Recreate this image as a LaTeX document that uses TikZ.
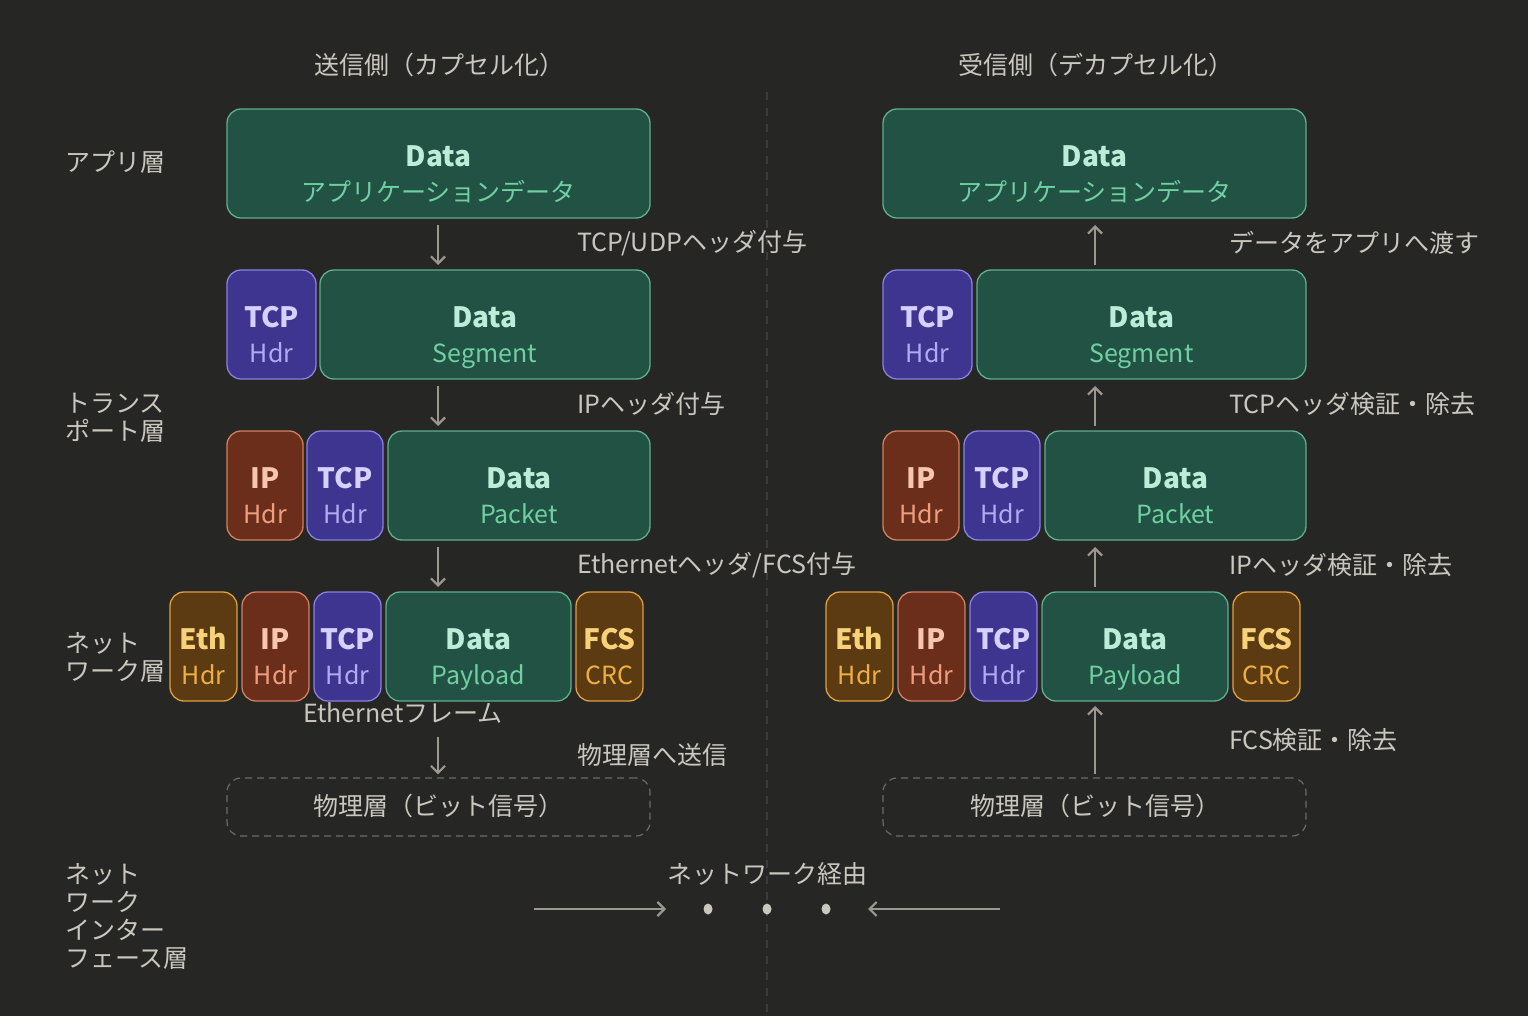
\documentclass[tikz,border=0pt]{standalone}
\usepackage{fontspec}
\setmainfont{Noto Sans CJK JP}
\usetikzlibrary{arrows.meta,shapes.geometric}
\definecolor{bg}{HTML}{262624}
\definecolor{txt}{HTML}{C9C7BE}
\definecolor{arrc}{HTML}{9A988F}
\definecolor{divc}{HTML}{3C3C3A}
\definecolor{physc}{HTML}{6A6A66}
\definecolor{gfill}{HTML}{225244}
\definecolor{gdraw}{HTML}{5FAE8E}
\definecolor{gt}{HTML}{BDEDD9}
\definecolor{gs}{HTML}{6FD0A4}
\definecolor{pfill}{HTML}{3D3590}
\definecolor{pdraw}{HTML}{8A80E0}
\definecolor{pt}{HTML}{D6D2FF}
\definecolor{ps}{HTML}{B3ABF2}
\definecolor{rfill}{HTML}{6A2E1A}
\definecolor{rdraw}{HTML}{D0805E}
\definecolor{rt}{HTML}{F6C6AE}
\definecolor{rs}{HTML}{EE9E7E}
\definecolor{ofill}{HTML}{5C3B12}
\definecolor{odraw}{HTML}{E0A040}
\definecolor{ot}{HTML}{F8D27A}
\definecolor{os}{HTML}{EEB040}
\tikzset{
  pk/.style={rounded corners=14pt, line width=1.3pt, inner sep=0pt, outer sep=0pt, align=center,
    text height=81pt, text depth=5pt, font=\fontsize{25}{35}\selectfont},
  gbox/.style={pk, fill=gfill, draw=gdraw},
  pbox/.style={pk, fill=pfill, draw=pdraw},
  rbox/.style={pk, fill=rfill, draw=rdraw},
  obox/.style={pk, fill=ofill, draw=odraw},
  lbl/.style={text=txt, font=\fontsize{25}{28}\selectfont, inner sep=0pt},
  side/.style={text=txt, font=\fontsize{25}{28}\selectfont, inner sep=0pt, align=left, anchor=west},
  arr/.style={draw=arrc, line width=2.4pt, -{Straight Barb[length=7pt,width=14pt,line width=2.2pt]}},
  netarr/.style={arr, line width=2.8pt},
  physbox/.style={rounded corners=14pt, draw=physc, line width=1.2pt, dash pattern=on 7pt off 5pt, inner sep=0pt, text=txt, font=\fontsize{25}{28}\selectfont},
  dot/.style={ellipse, fill=txt, inner sep=0pt, minimum width=9pt, minimum height=11pt}
}
% name, x1, x2, y1, y2, kind, line1, line2
\newcommand\blk[8]{%
  \node[#6box, minimum width={(#3-#2)*1pt}, minimum height={(#5-#4)*1pt}] (#1) at ({(#2+#3)/2},{(#4+#5)/2})
  {{\bfseries\fontsize{28}{35}\selectfont\textcolor{#6t}{#7}}\\\textcolor{#6s}{#8}};}
\begin{document}
\begin{tikzpicture}[x=1pt,y=-1pt]
\fill[bg] (0,0) rectangle (1528,1016);
\useasboundingbox (0,0) rectangle (1528,1016);
\draw[divc, line width=1.5pt, dash pattern=on 8pt off 8pt] (767,92) -- (767,1016);

% titles
\node[lbl] (tl) at (439,65) {送信側（カプセル化）};
\node[lbl] (tr) at (1096,65) {受信側（デカプセル化）};

% side labels
\node[side] (s1) at (65,162) {アプリ層};
\node[side] (s2) at (65,418) {トランス\\ポート層};
\node[side] (s3) at (65,657) {ネット\\ワーク層};
\node[side] (s4) at (65,916) {ネット\\ワーク\\インター\\フェース層};

% ---------- left column ----------
\blk{L1}{227}{650}{109}{218}{g}{Data}{アプリケーションデータ}
\blk{L2t}{227}{316}{270}{379}{p}{TCP}{Hdr}
\blk{L2}{320}{650}{270}{379}{g}{Data}{Segment}
\blk{L3i}{227}{303}{431}{540}{r}{IP}{Hdr}
\blk{L3t}{307}{383}{431}{540}{p}{TCP}{Hdr}
\blk{L3}{388}{650}{431}{540}{g}{Data}{Packet}
\blk{L4e}{170}{237}{592}{701}{o}{Eth}{Hdr}
\blk{L4i}{242}{309}{592}{701}{r}{IP}{Hdr}
\blk{L4t}{314}{381}{592}{701}{p}{TCP}{Hdr}
\blk{L4}{386}{571}{592}{701}{g}{Data}{Payload}
\blk{L4f}{576}{643}{592}{701}{o}{FCS}{CRC}
\node[lbl] (Lfr) at (403,713) {Ethernetフレーム};
\node[physbox, minimum width=423pt, minimum height=58pt] (Lph) at (438.5,807) {};
\node[lbl] (Lpht) at (438.5,806) {物理層（ビット信号）};

\coordinate (Lx) at (438,0);
\draw[arr, shorten <=7pt, shorten >=5pt] (L1.south -| Lx) -- (L2.north -| Lx);
\draw[arr, shorten <=7pt, shorten >=5pt] (L2.south -| Lx) -- (L3.north -| Lx);
\draw[arr, shorten <=7pt, shorten >=5pt] (L3.south -| Lx) -- (L4.north -| Lx);
\draw[arr, shorten <=13pt, shorten >=3pt] (Lfr.south -| Lx) -- (Lph.north -| Lx);

\node[lbl, anchor=west] (La1) at (577,243) {TCP/UDPヘッダ付与};
\node[lbl, anchor=west] (La2) at (577,404) {IPヘッダ付与};
\node[lbl, anchor=west] (La3) at (577,565) {Ethernetヘッダ/FCS付与};
\node[lbl, anchor=west] (La4) at (577,755) {物理層へ送信};

% ---------- right column ----------
\blk{R1}{883}{1306}{109}{218}{g}{Data}{アプリケーションデータ}
\blk{R2t}{883}{972}{270}{379}{p}{TCP}{Hdr}
\blk{R2}{977}{1306}{270}{379}{g}{Data}{Segment}
\blk{R3i}{883}{959}{431}{540}{r}{IP}{Hdr}
\blk{R3t}{964}{1040}{431}{540}{p}{TCP}{Hdr}
\blk{R3}{1045}{1306}{431}{540}{g}{Data}{Packet}
\blk{R4e}{826}{893}{592}{701}{o}{Eth}{Hdr}
\blk{R4i}{898}{965}{592}{701}{r}{IP}{Hdr}
\blk{R4t}{970}{1037}{592}{701}{p}{TCP}{Hdr}
\blk{R4}{1042}{1228}{592}{701}{g}{Data}{Payload}
\blk{R4f}{1233}{1300}{592}{701}{o}{FCS}{CRC}
\node[physbox, minimum width=423pt, minimum height=58pt] (Rph) at (1094.5,807) {};
\node[lbl] (Rpht) at (1095,806) {物理層（ビット信号）};

\coordinate (Rx) at (1095,0);
\draw[arr, shorten <=5pt, shorten >=7pt] (R2.north -| Rx) -- (R1.south -| Rx);
\draw[arr, shorten <=5pt, shorten >=7pt] (R3.north -| Rx) -- (R2.south -| Rx);
\draw[arr, shorten <=5pt, shorten >=7pt] (R4.north -| Rx) -- (R3.south -| Rx);
\draw[arr, shorten <=3pt, shorten >=5pt] (Rph.north -| Rx) -- (R4.south -| Rx);

\node[lbl, anchor=west] (Ra1) at (1229,243) {データをアプリへ渡す};
\node[lbl, anchor=west] (Ra2) at (1229,404) {TCPヘッダ検証・除去};
\node[lbl, anchor=west] (Ra3) at (1229,565) {IPヘッダ検証・除去};
\node[lbl, anchor=west] (Ra4) at (1229,740) {FCS検証・除去};

% ---------- network ----------
\node[lbl] (net) at (767,874) {ネットワーク経由};
\node[dot] (d1) at (708,909) {};
\node[dot] (d2) at (767,909) {};
\node[dot] (d3) at (826,909) {};
\coordinate (na) at (534,909);
\coordinate (nb) at (1000,909);
\draw[netarr] (na) -- ([xshift=-42pt]d1.center);
\draw[netarr] (nb) -- ([xshift=42pt]d3.center);
\end{tikzpicture}
\end{document}
